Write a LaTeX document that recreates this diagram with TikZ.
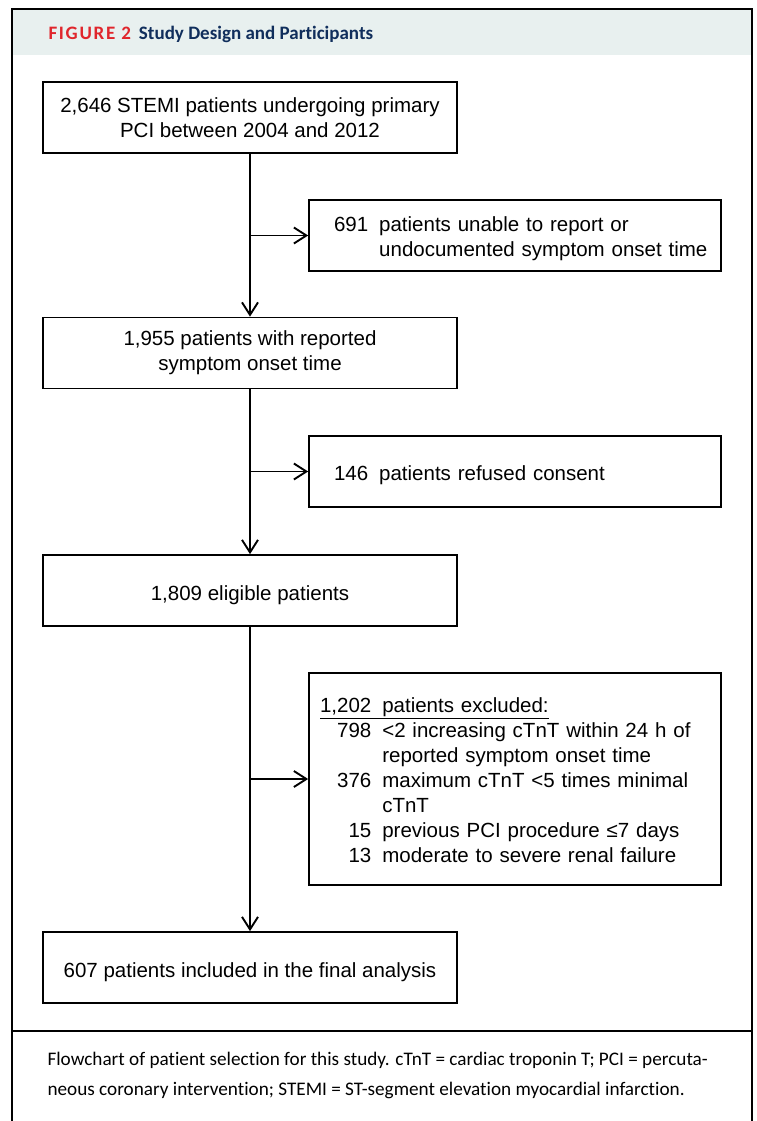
\documentclass[tikz,border=0pt]{standalone}
\usepackage{fontspec}
\setmainfont{Liberation Sans}
\newfontfamily\capfont[Ligatures=CommonOff]{Carlito}
\usetikzlibrary{arrows.meta}
\definecolor{figred}{RGB}{224,38,44}
\definecolor{titleblue}{RGB}{16,46,92}
\definecolor{band}{RGB}{232,240,239}

\tikzset{
  flowbox/.style={draw, line width=1.7pt, minimum width=414pt, minimum height=71pt,
    inner sep=0pt, align=center, font=\fontsize{20.5}{25}\selectfont,
    execute at begin node={\rule{0pt}{24.5pt}}},
  sidebox/.style={flowbox, minimum width=412pt, text width=362pt, align=left},
  flow/.style={line width=1.9pt, -{Straight Barb[length=12.5pt,width=16pt]}}
}

\begin{document}
\begin{tikzpicture}[x=1pt, y=-1pt]
        \useasboundingbox (0,0) rectangle (757,1121);

        % Frame and header band
        \fill[band] (12,9) rectangle (752,55);
        \draw[line width=1.4pt] (12,1121) -- (12,9) -- (752,9) -- (752,1121);
        \draw[line width=1.8pt] (12,1031) -- (752,1031);
        \node[anchor=base west, font=\capfont\bfseries\fontsize{19}{22}\selectfont] (title) at (45,40)
            {{\color{figred}\addfontfeature{LetterSpace=9}FIGURE 2}\hspace{8pt}{\color{titleblue}Study Design and Participants}};

        % Main column
        \node[flowbox] (all) at (250,117.5) {2,646 STEMI patients undergoing primary\\PCI between 2004 and 2012};
        \node[flowbox] (reported) at (250,353) {1,955 patients with reported\\symptom onset time};
        \node[flowbox] (eligible) at (250,590.5) {1,809 eligible patients};
        \node[flowbox] (included) at (250,967.5) {607 patients included in the final analysis};

        % Exclusions
        \node[sidebox] (unknown) at (515,235.5) {\begin{tabular}[t]{@{}r@{\hspace{11pt}}l@{}}
            691 & patients unable to report or\\
                & undocumented symptom onset time
          \end{tabular}};
        \node[sidebox] (refused) at (515,471.5) {\begin{tabular}[t]{@{}r@{\hspace{11pt}}l@{}}
            146 & patients refused consent
          \end{tabular}};
        \node[sidebox, minimum height=212pt, text width=390pt] (excluded) at (515,779) {\begin{tabular}[t]{@{}r@{\hspace{11pt}}l@{}}
            \underline{1,202\vphantom{p}\hspace{11pt}}\hspace{-11pt} & \underline{patients excluded:}\\
            798 & <2 increasing cTnT within 24 h of\\
                & reported symptom onset time\\
            376 & maximum cTnT <5 times minimal\\
                & cTnT\\
            15  & previous PCI procedure ≤7 days\\
            13  & moderate to severe renal failure
          \end{tabular}};

        % Arrows
        \draw[flow] (all) -- (reported);
        \draw[flow] (all.south |- unknown.west) -- (unknown);
        \draw[flow] (reported) -- (eligible);
        \draw[flow] (reported.south |- refused.west) -- (refused);
        \draw[flow] (eligible) -- (included);
        \draw[flow] (eligible.south |- excluded.west) -- (excluded);

        % Caption
        \node[anchor=north west, align=left, font=\capfont\fontsize{19.2}{30}\selectfont] (caption) at (44,1049)
            {Flowchart of patient selection for this study. cTnT = cardiac troponin T; PCI = percuta-\\
             neous coronary intervention; STEMI = ST-segment elevation myocardial infarction.};
    \end{tikzpicture}
\end{document}
